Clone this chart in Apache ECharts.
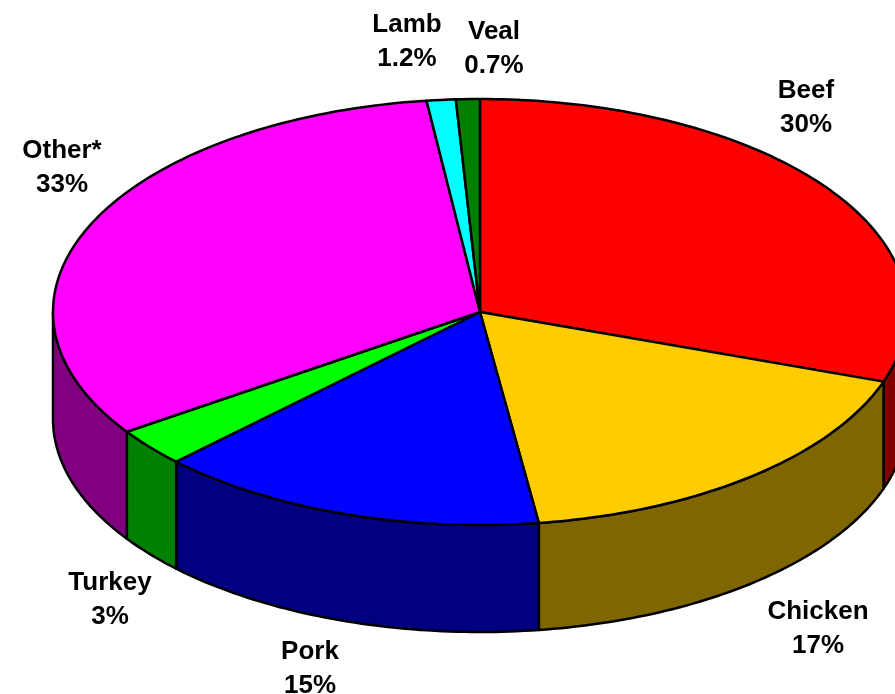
<!DOCTYPE html>
<html>
<head>
<meta charset="utf-8">
<style>html,body{margin:0;padding:0;background:#fff}#main{width:895px;height:694px}</style>
<script src="https://cdn.jsdelivr.net/npm/echarts@6/dist/echarts.min.js"></script>
</head>
<body>
<div id="main"></div>
<script>
var names = ['Beef', 'Chicken', 'Pork', 'Turkey', 'Other*', 'Lamb', 'Veal'];
var shareLabels = ['30%', '17%', '15%', '3%', '33%', '1.2%', '0.7%'];
// slice sizes as they measure on the drawing
var shares = [30.3, 17.5, 14.8, 2.9, 32.5, 1.1, 0.9];
var topColors = ['#ff0000', '#ffcc00', '#0000ff', '#00ff00', '#ff00ff', '#00ffff', '#008000'];
var wallColors = ['#800000', '#806600', '#000080', '#008000', '#800080', '#008080', '#004000'];

// label centres, same order as names
var labelX = [806, 818, 310, 110, 62, 407, 494];
var labelY = [108, 629, 669, 600, 168, 42, 49];

var cx = 480, cy = 312, rx = 427, ry = 213, depth = 107;

var total = shares.reduce(function (a, b) { return a + b; }, 0);
var running = 0;
var sliceData = shares.map(function (v, i) {
  var start = running;
  running += v;
  return { name: names[i], value: [start / total * 360, running / total * 360, i] };
});

function ellipsePoint(deg, dy) {
  var t = deg * Math.PI / 180;
  return [cx + rx * Math.sin(t), cy - ry * Math.cos(t) + dy];
}

function arcPoints(from, to, dy) {
  var pts = [];
  for (var d = from; d < to; d += 1) pts.push(ellipsePoint(d, dy));
  pts.push(ellipsePoint(to, dy));
  return pts;
}

function renderSlice(params, api) {
  var start = api.value(0), end = api.value(1), i = api.value(2);
  var children = [];

  // only the front half of the rim shows a wall
  var wallFrom = Math.max(start, 90), wallTo = Math.min(end, 270);
  if (wallTo > wallFrom) {
    var wall = arcPoints(wallFrom, wallTo, 0).concat(arcPoints(wallFrom, wallTo, depth).reverse());
    children.push({
      type: 'polygon',
      shape: { points: wall },
      style: { fill: wallColors[i], stroke: '#000', lineWidth: 2.5, lineJoin: 'round' }
    });
  }

  children.push({
    type: 'polygon',
    shape: { points: [[cx, cy]].concat(arcPoints(start, end, 0)) },
    style: { fill: topColors[i], stroke: '#000', lineWidth: 2.5, lineJoin: 'round' }
  });

  children.push({
    type: 'text',
    z2: 10,
    style: {
      x: labelX[i],
      y: labelY[i],
      text: names[i] + '\n' + shareLabels[i],
      fill: '#000',
      font: 'bold 26px "Liberation Sans", Arial, sans-serif',
      lineHeight: 34,
      align: 'center',
      verticalAlign: 'middle'
    }
  });

  return { type: 'group', children: children };
}

var myChart = echarts.init(document.getElementById('main'), null, { renderer: 'canvas' });
myChart.setOption({
  animation: false,
  backgroundColor: '#fff',
  series: [{
    type: 'custom',
    coordinateSystem: 'none',
    renderItem: renderSlice,
    data: sliceData
  }]
});
</script>
</body>
</html>
